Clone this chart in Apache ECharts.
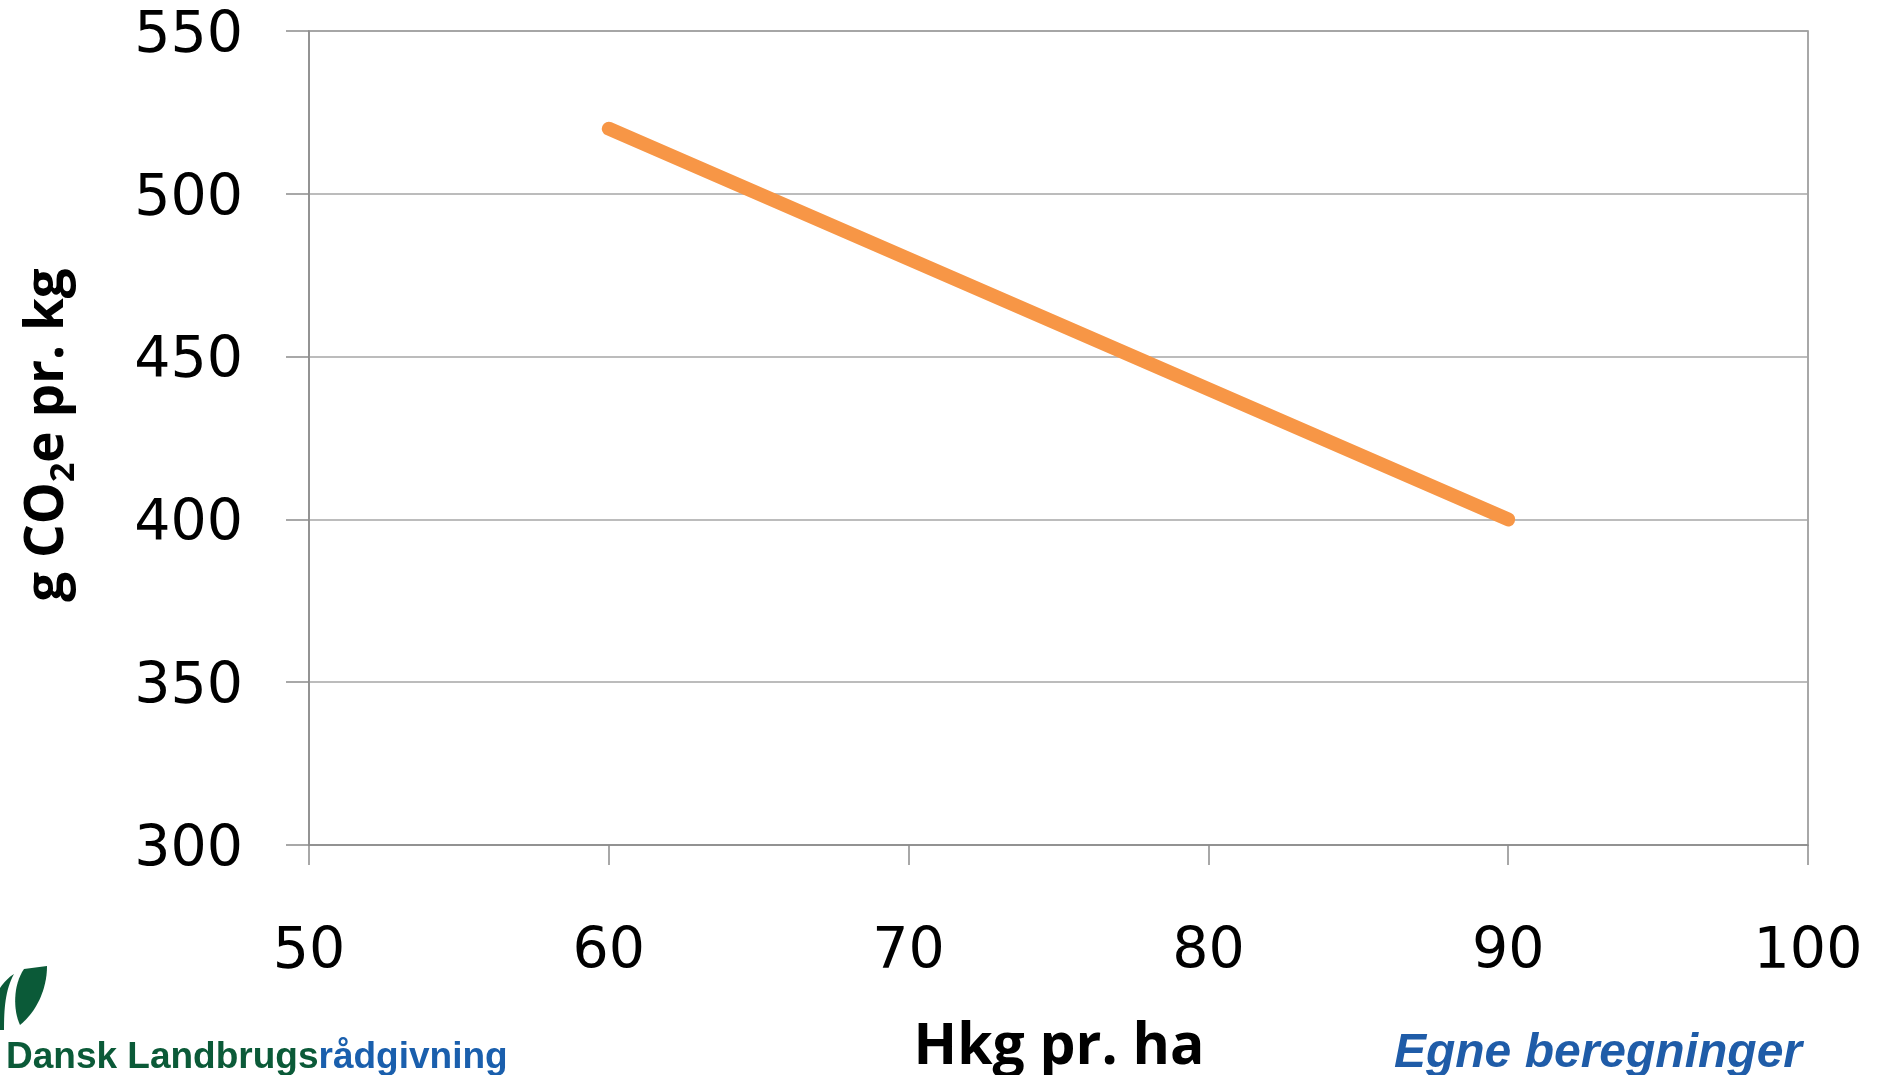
<!DOCTYPE html>
<html>
<head>
<meta charset="utf-8">
<script src="https://cdn.jsdelivr.net/npm/echarts@6/dist/echarts.min.js"></script>
<style>
html,body{margin:0;padding:0;background:#fff;}
#chart{width:1883px;height:1075px;}
</style>
</head>
<body>
<div id="chart"></div>
<script>
// Data
var xValues = [60, 90];          // Hkg pr. ha
var yValues = [520, 400];        // g CO2e pr. kg
var xTicks = [50, 60, 70, 80, 90, 100];
var yTicks = [300, 350, 400, 450, 500, 550];

var seriesData = xValues.map(function (x, i) { return [x, yValues[i]]; });

// logo leaf outline helper (decoration only)
function bez(p0, p1, p2, p3, n) {
  var out = [];
  for (var i = 0; i <= n; i++) {
    var t = i / n, u = 1 - t;
    out.push([
      u*u*u*p0[0] + 3*u*u*t*p1[0] + 3*u*t*t*p2[0] + t*t*t*p3[0],
      u*u*u*p0[1] + 3*u*u*t*p1[1] + 3*u*t*t*p2[1] + t*t*t*p3[1]
    ]);
  }
  return out;
}
var leafBig = [[24, 969]].concat(
  bez([47, 966], [47, 990], [36, 1012], [20, 1025], 16),
  bez([20, 1025], [13, 1010], [13, 985], [24, 969], 16)
);
var leafSmall = bez([14, 974], [5, 990], [4, 1010], [4, 1030], 16).concat(
  [[0, 1030], [0, 988]],
  bez([0, 988], [4, 982], [9, 977], [14, 974], 8)
);

var chart = echarts.init(document.getElementById('chart'), null, {renderer: 'canvas'});

var option = {
  animation: false,
  backgroundColor: '#ffffff',
  grid: {
    left: 309, right: 75, top: 31, bottom: 230,
    show: true, borderColor: '#8c8c8c', borderWidth: 1.5, backgroundColor: 'transparent'
  },
  xAxis: {
    type: 'value',
    min: xTicks[0], max: xTicks[xTicks.length - 1], interval: 10,
    axisLine: {show: true, lineStyle: {color: '#8c8c8c', width: 1.5}},
    axisTick: {show: true, inside: false, length: 20, lineStyle: {color: '#8c8c8c', width: 1.5}},
    splitLine: {show: false},
    axisLabel: {
      margin: 80, color: '#000', fontSize: 57, fontFamily: 'DejaVu Sans',
      showMinLabel: true, showMaxLabel: true
    }
  },
  yAxis: {
    type: 'value',
    min: yTicks[0], max: yTicks[yTicks.length - 1], interval: 50,
    axisLine: {show: true, lineStyle: {color: '#8c8c8c', width: 1.5}},
    axisTick: {show: true, inside: false, length: 23, lineStyle: {color: '#8c8c8c', width: 1.5}},
    splitLine: {show: true, lineStyle: {color: '#a6a6a6', width: 1.5}},
    axisLabel: {
      margin: 66, color: '#000', fontSize: 57, fontFamily: 'DejaVu Sans',
      verticalAlign: 'top', lineHeight: 12,
      showMinLabel: true, showMaxLabel: true
    }
  },
  series: [{
    type: 'line',
    data: seriesData,
    showSymbol: false,
    symbol: 'none',
    lineStyle: {color: '#F79646', width: 14, cap: 'round', join: 'round'},
    z: 5
  }],
  graphic: [
    {
      type: 'text', x: 48, y: 435, rotation: Math.PI / 2,
      style: {
        text: '{a|g CO}{s|2}{a|e pr. kg}',
        align: 'center', verticalAlign: 'middle',
        rich: {
          a: {fontFamily: 'Open Sans', fontWeight: 'bold', fontSize: 53, fill: '#000', lineHeight: 66},
          s: {fontFamily: 'Open Sans', fontWeight: 'bold', fontSize: 34, fill: '#000', lineHeight: 40, verticalAlign: 'bottom'}
        }
      }
    },
    {
      type: 'text', x: 1059, y: 1048,
      style: {
        text: 'Hkg pr. ha', fontFamily: 'Open Sans', fontWeight: 'bold', fontSize: 57,
        fill: '#000', align: 'center', verticalAlign: 'middle'
      }
    },
    {
      type: 'text', x: 1598, y: 1054,
      style: {
        text: 'Egne beregninger', fontFamily: 'Liberation Sans', fontWeight: 'bold', fontStyle: 'italic',
        fontSize: 48, fill: '#1F5CA8', align: 'center', verticalAlign: 'middle'
      }
    },
    {
      type: 'text', x: 6, y: 1058,
      style: {
        text: '{g|Dansk Landbrugs}{b|rådgivning}',
        align: 'left', verticalAlign: 'middle',
        rich: {
          g: {fontFamily: 'Liberation Sans', fontWeight: 'bold', fontSize: 37, fill: '#0B5A38'},
          b: {fontFamily: 'Liberation Sans', fontWeight: 'bold', fontSize: 37, fill: '#1A5FAD'}
        }
      }
    },
    {
      type: 'polygon',
      shape: {points: leafBig},
      style: {fill: '#0B5A38'}
    },
    {
      type: 'polygon',
      shape: {points: leafSmall},
      style: {fill: '#0B5A38'}
    }
  ]
};
chart.setOption(option);
</script>
</body>
</html>
